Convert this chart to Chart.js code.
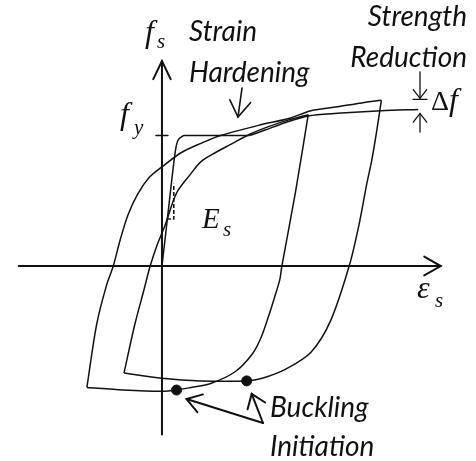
<!DOCTYPE html>
<html>
<head>
<meta charset="utf-8">
<script src="https://cdn.jsdelivr.net/npm/chart.js@4/dist/chart.umd.min.js"></script>
<style>
  html, body { margin: 0; padding: 0; background: #fff; }
  #wrap { width: 476px; height: 461px; }
</style>
</head>
<body>
<div id="wrap"><canvas id="chart1"></canvas></div>
<script>
// strain in units of yield strain (eps / eps_y), stress in units of yield stress (f / f_y)

// monotonic loading: elastic branch, yield plateau, hardening envelope
var initEps = [0, 0.14, 0.32, 0.45, 0.59, 0.68, 0.77, 0.91, 1.05, 4.09, 4.77, 5.77, 6.82, 8.18, 10.23, 11.95];
var initFs  = [0, 0.20, 0.46, 0.65, 0.84, 0.93, 0.97, 0.99, 1.00, 1.00, 1.04, 1.10, 1.15, 1.17, 1.19, 1.20];
var initCorners = [9];

// first cycle: unload from the small peak, compress, reload to the big peak
var loop1Eps = [6.82, 6.23, 5.59, 5.50, 5.23, 5.00, 4.64, 4.23, 3.41, 2.27, 1.36, 0.68, 0, -1.82, -3.50,
                -3.05, -2.59, -2.27, -1.95, -1.59, -1.14, -0.59, 0, 0.91, 1.82, 2.73, 4.55, 5.91, 6.95, 8.18, 9.32, 10.23];
var loop1Fs  = [1.16, 0.57, 0, -0.10, -0.25, -0.37, -0.54, -0.67, -0.81, -0.90, -0.93, -0.95, -0.96, -0.95, -0.93,
                -0.45, -0.15, 0, 0.20, 0.39, 0.55, 0.68, 0.76, 0.87, 0.94, 1.00, 1.08, 1.13, 1.19, 1.22, 1.25, 1.27];
var loop1Corners = [14];

// second cycle: unload from the big peak, compress, reload back up
var loop2Eps = [10.23, 10.00, 9.77, 9.55, 9.18, 8.73, 7.86, 6.95, 5.77, 4.68, 3.95, 1.82, 0, -1.77,
                -1.27, -0.82, -0.55, -0.23, 0.14, 0.68, 1.36, 1.82, 2.50, 3.18, 4.09, 5.00, 5.91, 6.82];
var loop2Fs  = [1.27, 1.02, 0.80, 0.63, 0.31, 0, -0.42, -0.66, -0.79, -0.86, -0.88, -0.88, -0.86, -0.82,
                -0.45, -0.17, 0, 0.16, 0.31, 0.56, 0.71, 0.80, 0.87, 0.93, 1.01, 1.07, 1.12, 1.16];
var loop2Corners = [13];

// onset of bar buckling on each compression branch
var buckEps = [0.68, 3.95];
var buckFs  = [-0.95, -0.88];

// slope triangle for the elastic modulus
var esEps = [0.23, 0.55, 0.55];
var esFs  = [0.36, 0.36, 0.63];

// drawn length of the two axes
var axisEps = [-6.68, 13.0];
var axisFs  = [-1.29, 1.57];

var ink = '#111111';

function pts(xs, ys) {
  return xs.map(function (v, i) { return { x: v, y: ys[i] }; });
}

function curve(data) {
  return {
    data: data,
    showLine: true,
    borderColor: ink,
    borderWidth: 1.5,
    pointRadius: 0,
    tension: 0.3,
    fill: false
  };
}

// one dataset per smooth piece so the reversal corners stay sharp
function pieces(xs, ys, corners) {
  var all = pts(xs, ys), out = [], start = 0;
  corners.concat([all.length - 1]).forEach(function (k) {
    out.push(curve(all.slice(start, k + 1)));
    start = k;
  });
  return out;
}

function seg(c, x1, y1, x2, y2) {
  c.beginPath();
  c.moveTo(x1, y1);
  c.lineTo(x2, y2);
  c.stroke();
}

// open V head, (dx, dy) points back along the shaft
function head(c, tx, ty, dx, dy, len, ang) {
  var a = Math.atan2(dy, dx);
  c.beginPath();
  c.moveTo(tx + len * Math.cos(a + ang), ty + len * Math.sin(a + ang));
  c.lineTo(tx, ty);
  c.lineTo(tx + len * Math.cos(a - ang), ty + len * Math.sin(a - ang));
  c.stroke();
}

function arrow(c, bx, by, tx, ty, len, ang) {
  seg(c, bx, by, tx, ty);
  head(c, tx, ty, bx - tx, by - ty, len, ang);
}

var serif = '"Liberation Serif", "DejaVu Serif", serif';
var sans = 'Lato, "Open Sans", sans-serif';

function sym(c, main, sub, x, y, size, subSize, subDx, subDy, upright) {
  c.font = (upright ? '' : 'italic ') + size + 'px ' + serif;
  c.fillText(main, x, y);
  if (sub) {
    c.font = 'italic ' + subSize + 'px ' + serif;
    c.fillText(sub, x + subDx, y + subDy);
  }
}

var decor = {
  id: 'decor',
  beforeDatasetsDraw: function (chart) {
    var c = chart.ctx, sx = chart.scales.x, sy = chart.scales.y;
    var x0 = sx.getPixelForValue(0), y0 = sy.getPixelForValue(0);
    var xa = sx.getPixelForValue(axisEps[0]), xb = sx.getPixelForValue(axisEps[1]);
    var ya = sy.getPixelForValue(axisFs[0]), yb = sy.getPixelForValue(axisFs[1]);
    c.save();
    c.strokeStyle = ink;
    c.lineWidth = 2;
    c.lineCap = 'round';
    arrow(c, xa, y0, xb, y0, 19, 0.52);
    arrow(c, x0, ya, x0, yb, 20, 0.45);
    // yield stress tick
    var yFy = sy.getPixelForValue(1);
    c.lineWidth = 1.5;
    seg(c, x0 - 6, yFy, x0 + 6, yFy);
    c.restore();
  },
  afterDatasetsDraw: function (chart) {
    var c = chart.ctx, sx = chart.scales.x, sy = chart.scales.y;
    c.save();
    c.strokeStyle = ink;
    c.fillStyle = ink;
    c.lineWidth = 1.6;
    c.lineCap = 'round';
    c.textBaseline = 'alphabetic';

    // strain hardening pointer
    arrow(c, 242, 88, 238, 117, 19, 0.58);

    // strength reduction between the cycled peak and the monotonic envelope
    var peakF = Math.max.apply(null, loop1Fs);
    var envF = initFs[initFs.length - 1];
    var yPk = sy.getPixelForValue(peakF), yEnv = sy.getPixelForValue(envF);
    c.lineWidth = 1.3;
    arrow(c, 420, 72, 420, yPk - 2, 11, 0.66);
    seg(c, 413, yPk - 1, 427, yPk - 1);
    arrow(c, 420, 132, 420, yEnv + 4, 11, 0.66);

    // buckling pointers
    c.lineWidth = 2;
    var b1x = sx.getPixelForValue(buckEps[0]), b1y = sy.getPixelForValue(buckFs[0]);
    var b2x = sx.getPixelForValue(buckEps[1]), b2y = sy.getPixelForValue(buckFs[1]);
    arrow(c, 263, 423, b1x + 10, b1y + 9, 17, 0.58);
    arrow(c, 263, 423, b2x + 5, b2y + 13, 16, 0.63);

    // word labels
    c.font = 'italic 28px ' + sans;
    c.fillText('Strain', 189, 41);
    c.fillText('Hardening', 189, 82);
    c.textAlign = 'right';
    c.fillText('Strength', 467, 26);
    c.fillText('Reduction', 467, 67);
    c.textAlign = 'left';
    c.fillText('Buckling', 270, 417);
    c.fillText('Initiation', 270, 456);

    // symbols
    sym(c, 'f', 's', 145, 42, 32, 21, 12, 6);
    sym(c, 'f', 'y', 120, 124, 32, 21, 14, 10);
    sym(c, 'E', 's', 202, 228, 29, 21, 21, 8);
    sym(c, 'ε', 's', 417, 298, 32, 21, 18, 9);
    sym(c, 'Δ', null, 431, 110, 28, 0, 0, 0, true);
    sym(c, 'f', null, 449, 110, 32, 0, 0, 0);
    c.restore();
  }
};

var ctx1 = document.getElementById('chart1');
var dashed = curve(pts(esEps, esFs));
dashed.tension = 0;
dashed.borderWidth = 1.6;
dashed.borderDash = [4, 2];

var sets = []
  .concat(pieces(initEps, initFs, initCorners))
  .concat(pieces(loop1Eps, loop1Fs, loop1Corners))
  .concat(pieces(loop2Eps, loop2Fs, loop2Corners));
sets.push(dashed);
sets.push({
  data: pts(buckEps, buckFs),
  pointRadius: 5,
  pointBackgroundColor: ink,
  pointBorderColor: ink,
  showLine: false
});

var chart1 = new Chart(ctx1.getContext('2d'), {
  type: 'scatter',
  data: { datasets: sets },
  options: {
    responsive: true,
    maintainAspectRatio: false,
    animation: false,
    layout: { padding: 0 },
    plugins: { legend: { display: false }, tooltip: { enabled: false } },
    scales: {
      x: { type: 'linear', min: -160 / 22, max: 316 / 22, display: false },
      y: { type: 'linear', min: -194 / 134, max: 267 / 134, display: false }
    }
  },
  plugins: [decor]
});
</script>
</body>
</html>
